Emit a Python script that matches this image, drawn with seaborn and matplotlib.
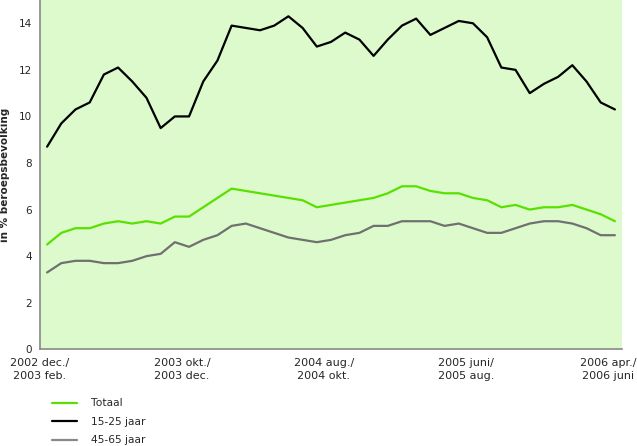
import matplotlib
matplotlib.use("Agg")
import matplotlib.pyplot as plt
import seaborn as sns
import pandas as pd
import numpy as np

periods = list(range(41))
tick_positions = [0, 10, 20, 30, 40]
tick_labels = ["2002 dec./\n2003 feb.", "2003 okt./\n2003 dec.", "2004 aug./\n2004 okt.",
               "2005 juni/\n2005 aug.", "2006 apr./\n2006 juni"]

totaal = [4.5, 5.0, 5.2, 5.2, 5.4, 5.5, 5.4, 5.5, 5.4, 5.7,
          5.7, 6.1, 6.5, 6.9, 6.8, 6.7, 6.6, 6.5, 6.4, 6.1,
          6.2, 6.3, 6.4, 6.5, 6.7, 7.0, 7.0, 6.8, 6.7, 6.7,
          6.5, 6.4, 6.1, 6.2, 6.0, 6.1, 6.1, 6.2, 6.0, 5.8,
          5.5]
jong = [8.7, 9.7, 10.3, 10.6, 11.8, 12.1, 11.5, 10.8, 9.5, 10.0,
        10.0, 11.5, 12.4, 13.9, 13.8, 13.7, 13.9, 14.3, 13.8, 13.0,
        13.2, 13.6, 13.3, 12.6, 13.3, 13.9, 14.2, 13.5, 13.8, 14.1,
        14.0, 13.4, 12.1, 12.0, 11.0, 11.4, 11.7, 12.2, 11.5, 10.6,
        10.3]
oud = [3.3, 3.7, 3.8, 3.8, 3.7, 3.7, 3.8, 4.0, 4.1, 4.6,
       4.4, 4.7, 4.9, 5.3, 5.4, 5.2, 5.0, 4.8, 4.7, 4.6,
       4.7, 4.9, 5.0, 5.3, 5.3, 5.5, 5.5, 5.5, 5.3, 5.4,
       5.2, 5.0, 5.0, 5.2, 5.4, 5.5, 5.5, 5.4, 5.2, 4.9,
       4.9]

series_names = ["Totaal", "15-25 jaar", "45-65 jaar"]
colors = {"Totaal": "#5ae000", "15-25 jaar": "#000000", "45-65 jaar": "#707070"}

df = pd.concat([
    pd.DataFrame({"periode": periods, "waarde": totaal, "groep": "Totaal"}),
    pd.DataFrame({"periode": periods, "waarde": jong, "groep": "15-25 jaar"}),
    pd.DataFrame({"periode": periods, "waarde": oud, "groep": "45-65 jaar"}),
])

sns.set_style("white")
plt.rcParams["font.family"] = ["DejaVu Sans"]
plt.rcParams["font.size"] = 7.5

fig = plt.figure(figsize=(6.37, 4.46), dpi=100)
ax = fig.add_axes([40 / 637, 1 - 349.3 / 446, (622 - 40) / 637, 349.3 / 446])
ax.set_facecolor("#ddfacc")

sns.lineplot(data=df, x="periode", y="waarde", hue="groep", hue_order=series_names,
             palette=colors, linewidth=1.6, ax=ax, legend=False)

ax.set_xlim(-0.5, 40.5)
ax.set_ylim(0, 15)
ax.set_yticks([0, 2, 4, 6, 8, 10, 12, 14])
ax.set_xticks([p - 0.5 for p in tick_positions])
ax.set_xticklabels(tick_labels, fontsize=8, linespacing=1.45)
ax.tick_params(axis="both", direction="out", length=4, width=0.8, color="#888888",
               labelsize=7.5, pad=2)
ax.tick_params(axis="x", labelsize=8, pad=2)
for s in ["top", "right"]:
    ax.spines[s].set_visible(False)
for s in ["left", "bottom"]:
    ax.spines[s].set_color("#888888")
    ax.spines[s].set_linewidth(1.2)
ax.set_xlabel("")
ax.set_ylabel("in % beroepsbevolking", fontweight="bold", fontsize=7.5, labelpad=6)

handles = [plt.Line2D([], [], color=colors[n], linewidth=1.6) for n in series_names]
handles[2].set_color("#888888")
fig.legend(handles, series_names, loc="upper left", bbox_to_anchor=(48 / 637, 1 - 394 / 446),
           frameon=False, handlelength=2.3, handletextpad=1.3, labelspacing=0.8,
           fontsize=7.7, borderaxespad=0)

fig.savefig("out.png", dpi=100)
